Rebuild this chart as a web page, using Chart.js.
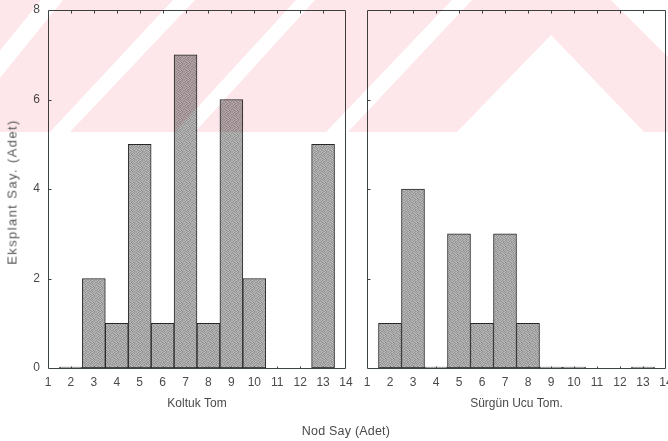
<!DOCTYPE html>
<html>
<head>
<meta charset="utf-8">
<script src="https://cdn.jsdelivr.net/npm/chart.js@4/dist/chart.umd.min.js"></script>
<style>
  html, body { margin: 0; padding: 0; background: #fff; }
  #wrap { position: relative; width: 668px; height: 441px; overflow: hidden;
          font-family: "Liberation Sans", Arial, sans-serif; }
  #cL { position: absolute; left: 0; top: 0; }
  #cR { position: absolute; left: 356px; top: 0; }
  #mark { position: absolute; left: 0; top: 0; mix-blend-mode: multiply; pointer-events: none; }
  #xt { position: absolute; left: 0; width: 692px; top: 424px; text-align: center;
        font-size: 12.5px; color: #4a4a4a; letter-spacing: 0.2px; }
  #yt { position: absolute; left: 12px; top: 192px; width: 0; height: 0; }
  #yt span { position: absolute; left: 0; top: 0; white-space: nowrap;
             transform: translate(-50%, -50%) rotate(-90deg);
             font-size: 13px; color: #555; letter-spacing: 1.4px; }
</style>
</head>
<body>
<div id="wrap">
  <canvas id="cL" width="356" height="441"></canvas>
  <canvas id="cR" width="312" height="441"></canvas>
  <svg id="mark" width="668" height="441" viewBox="0 0 668 441">
    <rect x="0" y="0" width="668" height="132" fill="#fde7eb"/>
    <g fill="#ffffff">
      <polygon points="-66,132 -44,132 63,0 41,0"/>
      <polygon points="50,132 70,132 195,0 173,0"/>
      <polygon points="175,132 195,132 315,0 296,0"/>
      <polygon points="326,132 348,132 472,0 452,0"/>
      <polygon points="457,132 551,35 644,132"/>
      <polygon points="611,0 668,0 668,57"/>
    </g>
  </svg>
  <div id="yt"><span id="ytText"></span></div>
  <div id="xt">Nod Say (Adet)</div>
</div>
<script>
// Node counts on the x axis (bins 2..13) and explant counts per bin
const nodeBins = [2, 3, 4, 5, 6, 7, 8, 9, 10, 11, 12, 13];
const koltukTom = [0, 2, 1, 5, 1, 7, 1, 6, 2, null, null, 5];
const surgunUcuTom = [1, 4, 0, 3, 1, 3, 1, 0, 0, null, null, 0];
const xTickRange = [1, 14];
const yTickRange = [0, 8];
const yTickStep = 2;
const panelTitles = ['Koltuk Tom', 'Sürgün Ucu Tom.'];
const yTitle = 'Eksplant Say. (Adet)';

document.getElementById('ytText').textContent = yTitle;

const TXT = '#4a4a4a';
const FONT = { family: '"Liberation Sans", Arial, sans-serif', size: 12 };

// fine grey stipple used for the bar fill
function stipple(ctx) {
  const shades = [
    [158, 182, 150, 171, 189, 146, 176, 163],
    [186, 144, 175, 160, 152, 181, 141, 188],
    [149, 170, 192, 139, 174, 160, 184, 155],
    [178, 156, 146, 183, 143, 190, 151, 170],
    [140, 189, 165, 152, 179, 148, 168, 182],
    [172, 150, 181, 190, 157, 171, 192, 145],
    [191, 162, 143, 168, 186, 138, 159, 177],
    [153, 177, 187, 148, 164, 183, 149, 166]
  ];
  const c = document.createElement('canvas');
  c.width = 8; c.height = 8;
  const g = c.getContext('2d');
  for (let r = 0; r < 8; r++) {
    for (let k = 0; k < 8; k++) {
      const v = shades[r][k];
      g.fillStyle = `rgb(${v},${v},${v})`;
      g.fillRect(k, r, 1, 1);
    }
  }
  return ctx.createPattern(c, 'repeat');
}

// box frame plus short inward tick marks
const framePlugin = {
  id: 'frame',
  afterDatasetsDraw(chart) {
    const { ctx, chartArea: a, scales: { x, y } } = chart;
    ctx.save();
    ctx.strokeStyle = '#3b4343';
    ctx.lineWidth = 1;
    const L = Math.round(a.left) + 0.5, R = Math.round(a.right) - 0.5;
    const T = Math.round(a.top) + 0.5, B = Math.round(a.bottom) + 0.5;
    ctx.beginPath();
    ctx.moveTo(L, T); ctx.lineTo(R, T); ctx.lineTo(R, B); ctx.lineTo(L, B); ctx.closePath();
    ctx.stroke();
    ctx.beginPath();
    x.ticks.forEach(t => {
      if (t.value <= x.min || t.value >= x.max) return;
      const px = Math.round(x.getPixelForValue(t.value)) + 0.5;
      ctx.moveTo(px, T); ctx.lineTo(px, T + 3);
      ctx.moveTo(px, B); ctx.lineTo(px, B - 2);
    });
    y.ticks.forEach(t => {
      if (t.value <= y.min || t.value >= y.max) return;
      const py = Math.round(y.getPixelForValue(t.value)) + 0.5;
      ctx.moveTo(L, py); ctx.lineTo(L + 3, py);
    });
    ctx.stroke();
    ctx.restore();
  }
};

function makePanel(canvas, values, title, showY, pad) {
  const ctx = canvas.getContext('2d');
  const points = [];
  nodeBins.forEach((b, i) => { if (values[i] !== null) points.push({ x: b, y: values[i] }); });
  return new Chart(ctx, {
    type: 'bar',
    data: {
      datasets: [{
        data: points,
        backgroundColor: stipple(ctx),
        borderColor: '#262828',
        borderWidth: 1,
        borderSkipped: false,
        minBarLength: 1,
        barPercentage: 1,
        categoryPercentage: 1
      }]
    },
    options: {
      responsive: false,
      animation: false,
      events: [],
      layout: { autoPadding: false, padding: pad },
      plugins: { legend: { display: false }, tooltip: { enabled: false } },
      scales: {
        x: {
          type: 'linear',
          min: xTickRange[0], max: xTickRange[1],
          offset: false,
          grid: { display: false, drawTicks: false },
          border: { display: false },
          ticks: { stepSize: 1, color: TXT, font: FONT, padding: 7, maxRotation: 0, autoSkip: false },
          title: { display: true, text: title, color: TXT, font: FONT, padding: { top: 0, bottom: 2 } },
          afterFit(s) {
            s.height = 45;
            s.paddingLeft = 0; s.paddingRight = 0; s.paddingTop = 0; s.paddingBottom = 0;
          }
        },
        y: {
          display: showY,
          min: yTickRange[0], max: yTickRange[1],
          grid: { display: false, drawTicks: false },
          border: { display: false },
          ticks: { stepSize: yTickStep, color: TXT, font: FONT, padding: 8 },
          afterFit(s) {
            s.width = showY ? 48 : 0;
            s.paddingLeft = 0; s.paddingRight = 0; s.paddingTop = 0; s.paddingBottom = 0;
          }
        }
      }
    },
    plugins: [framePlugin]
  });
}

makePanel(document.getElementById('cL'), koltukTom, panelTitles[0], true,
  { left: 0, right: 10, top: 10, bottom: 28 });
makePanel(document.getElementById('cR'), surgunUcuTom, panelTitles[1], false,
  { left: 11, right: 2, top: 10, bottom: 28 });
</script>
</body>
</html>
